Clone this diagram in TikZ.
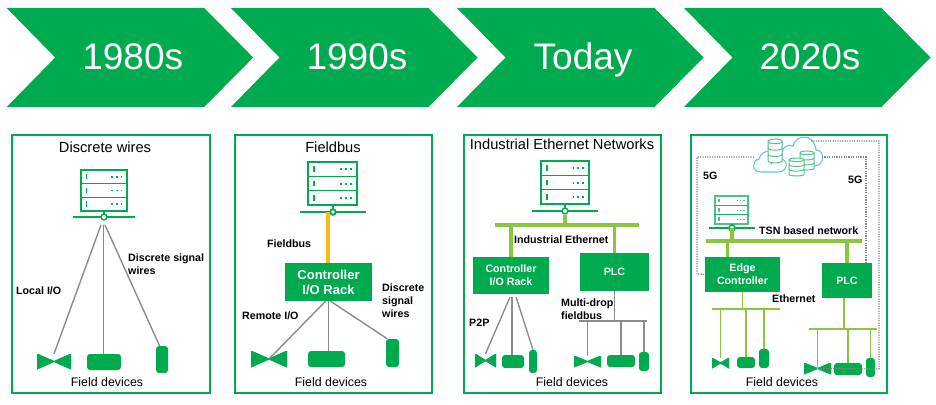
\documentclass[tikz,border=0pt]{standalone}
\usepackage{fontspec}
\setmainfont{Liberation Sans}
\usetikzlibrary{calc,positioning}
\definecolor{brandgreen}{HTML}{00AB4F}
\definecolor{limegreen}{HTML}{8CC63F}
\definecolor{wiregray}{HTML}{8C8C8C}
\definecolor{busyellow}{HTML}{FFB914}
\definecolor{cloudblue}{HTML}{5CC8F0}
\definecolor{dbgreen}{HTML}{55C487}

\begin{document}
\begin{tikzpicture}[x=1pt,y=-1pt,line join=miter]
        \tikzset{
                panel/.style   = {draw=brandgreen, line width=2pt},
                period/.style  = {text=white, inner sep=0pt, anchor=base, font=\fontsize{37}{40}\selectfont},
                title/.style   = {inner sep=0pt, font=\fontsize{14.67}{17}\selectfont},
                tag/.style     = {inner sep=0pt, align=left, anchor=west,
                                font=\fontsize{10.67}{13}\selectfont\bfseries},
                box/.style     = {fill=brandgreen, text=white, inner sep=0pt, align=center,
                                font=\fontsize{10.67}{13}\selectfont\bfseries},
                device/.style  = {fill=brandgreen, inner sep=0pt},
                pad/.style     = {device, rounded corners=3pt},
                tall/.style    = {device, rounded corners=3pt},
                valve/.style   = {inner sep=0pt, path picture={
                                \path[fill=brandgreen, draw=brandgreen, line width=1.2pt]
                                (path picture bounding box.north west)
                                -- (path picture bounding box.south east)
                                -- (path picture bounding box.north east)
                                -- (path picture bounding box.south west) -- cycle;}},
                hub/.style     = {circle, draw=brandgreen, fill=white, line width=1.4pt,
                                inner sep=0pt, minimum size=6pt},
                rackline/.style = {draw=brandgreen, line width=1.3pt},
                wire/.style    = {draw=wiregray, line width=1.4pt},
                thinbus/.style = {draw=limegreen, line width=1.5pt},
                bus/.style     = {draw=limegreen, line width=3.2pt},
                fivegee/.style = {draw=gray!95, line width=1.2pt, dash pattern=on 1.2pt off 1.2pt},
                cloudline/.style = {draw=cloudblue, line width=1.1pt},
                pics/rack/.style = {code={
                        \foreach \row in {0,1,2} {
                                \draw[rackline] (0,\row/3) rectangle (1,\row/3+1/3);
                                \draw[brandgreen, line width=1.5pt] (0.12,\row/3+0.1) -- (0.12,\row/3+0.23);
                                \foreach \dotx in {0.66,0.76,0.86}
                                \fill[brandgreen] (\dotx,\row/3+0.15) rectangle ++(0.035,0.04);
                        }
                }},
                pics/dbstack/.style = {code={
                        \draw[dbgreen, fill=white, line width=1pt] (0,0.1)
                                .. controls (0,-0.03) and (1,-0.03) .. (1,0.1)
                                -- (1,0.9) .. controls (1,1.03) and (0,1.03) .. (0,0.9) -- cycle;
                        \foreach \tier in {0.1,0.37,0.63}
                        \draw[dbgreen, line width=1pt] (0,\tier)
                                .. controls (0,\tier+0.13) and (1,\tier+0.13) .. (1,\tier);
                }}
        }

        \useasboundingbox (0,0) rectangle (936,404);

        % timeline arrows
        \foreach \n/\x/\label in {a/6.7/1980s, b/231/1990s, c/457/Today, d/684/2020s} {
                \fill[brandgreen] (\x,8) -- ++(197.5,0) -- ++(49,49.5) -- ++(-49,49.5)
                        -- ++(-197.5,0) -- ++(48.5,-49.5) -- cycle;
                \node[period] (era\n) at (\x+126,69) {\label};
        }

        % frames of the four panels
        \foreach \xa/\xb in {12/210, 235/432, 464/661, 691/887}
        \draw[panel] (\xa,135) rectangle (\xb,393);

        % panel titles
        \node[title] (title1) at (105,147) {Discrete wires};
        \node[title] (title2) at (333,147) {Fieldbus};
        \node[title] (title3) at (562,144) {Industrial Ethernet Networks};

        % server racks with their base line and hub
        \foreach \n/\x/\y/\w/\h/\hx/\hy/\half/\pale in {1/81/170/46/41/104/217/31/1, 2/308/162/49/43/333/212/33/1,
                3/541/161/48/43/565/211/33/1, 4/715/196/33/28/732/228/23/0.7} {
                \pic[xscale=\w,yscale=\h,opacity=\pale] at (\x,\y) {rack};
                \coordinate (rack\n) at (\hx,\y+\h);
                \draw[rackline] (\hx-\half,\hy) -- (\hx+\half,\hy);
                \draw[rackline] (rack\n) -- (\hx,\hy);
                \node[hub] (hub\n) at (\hx,\hy) {};
        }

        % controllers
        \node[box, minimum width=87pt, minimum height=38pt, font=\fontsize{13}{15}\selectfont\bfseries]
                (rack2io) at (328.5,282) {Controller\\I/O Rack};
        \node[box, minimum width=76pt, minimum height=37pt] (rack3io) at (511,275.5) {Controller\\I/O Rack};
        \node[box, minimum width=69pt, minimum height=38pt] (plc3) at (614.5,272) {PLC};
        \node[box, minimum width=75pt, minimum height=35pt] (edge4) at (742.5,274.5) {Edge\\Controller};
        \node[box, minimum width=50pt, minimum height=35pt] (plc4) at (847,280.5) {PLC};

        % field devices
        \foreach \kind/\id/\x/\y/\w/\h in {valve/v1/54/361.5/34/15, pad/p1/104/362/34/16, tall/t1/162/359.5/12/27,
                valve/v2/269/359/36/16, pad/p2/326.5/359/37/16, tall/t2/392.5/353/13/28,
                valve/v3/485.5/360.5/21/13, pad/p3/513/361.5/22/13, tall/t3/533/361.5/8/23,
                valve/w3/587.5/361.5/27/11, pad/q3/621/361/28/12, tall/u3/644/361.5/10/19,
                valve/v4/720.5/363/17/10, pad/p4/746/362.5/18/11, tall/t4/764/358.5/10/19,
                valve/w4/817.5/368.5/27/11, pad/q4/848/369/28/12, tall/u4/870.5/367.5/9/19}
        \node[\kind, minimum width=\w pt, minimum height=\h pt] (\id) at (\x,\y) {};

        % discrete wires
        \coordinate (fan1a) at (101,225);
        \coordinate (fan1b) at (103.3,225);
        \coordinate (fan1c) at (105,225);
        \draw[wire] (fan1a) -- (v1.north);
        \draw[wire] (fan1b) -- (fan1b |- p1.north);
        \draw[wire] (fan1c) -- (t1.100);

        % fieldbus
        \coordinate (barfoot) at (328,263);
        \draw[busyellow, line width=4.6pt] (barfoot |- hub2) -- (barfoot);
        \node[hub, minimum size=5pt] (hub2top) at (hub2) {};
        \draw[wire] (rack2io.south) ++(-3,0) -- (v2.center);
        \draw[wire] (rack2io.south) -- (rack2io.south |- p2.north);
        \draw[wire] (rack2io.south) ++(2,0) -- (t2.110);

        % industrial ethernet
        \coordinate (bus3w) at (495,225);
        \coordinate (bus3e) at (639,225);
        \draw[bus] (bus3w) -- (bus3e);
        \draw[bus] (hub3.south) -- (hub3 |- bus3w);
        \draw[bus] (rack3io.north |- bus3w) -- (rack3io.north);
        \draw[bus] (plc3.north |- bus3w) -- (plc3.north);
        \coordinate (fan3a) at (510,297);
        \coordinate (fan3b) at (512,297);
        \coordinate (fan3c) at (516,297);
        \draw[wire] (fan3a) -- (v3.north);
        \draw[wire] (fan3b) -- (fan3b |- p3.north);
        \draw[wire] (fan3c) -- (t3.north);
        \coordinate (drop3w) at (579,321);
        \coordinate (drop3e) at (647,321);
        \draw[wire] (plc3.south) -- (plc3.south |- drop3w);
        \draw[wire] (drop3w) -- (drop3e);
        \foreach \id in {w3,q3,u3}
        \draw[wire] (\id.north |- drop3w) -- (\id.north);

        % cloud with its databases
        \draw[cloudline] (782,158) .. controls (780,148) and (788,143) .. (793,146)
                .. controls (796,134) and (814,133) .. (816,150)
                .. controls (825,150) and (825,165) .. (815,166) -- (800,166);
        \draw[cloudline, fill=white] (761,172) -- (778,172) .. controls (789,172) and (789,158) .. (778,158)
                .. controls (776,150) and (762,148) .. (759,159)
                .. controls (752,160) and (751,172) .. (761,172) -- cycle;
        \draw[cloudline] (771,165) .. controls (771,161) and (774,158) .. (778,158);
        \pic[xscale=14,yscale=24] at (768,139) {dbstack};
        \pic[xscale=14,yscale=19] at (800,151) {dbstack};
        \pic[xscale=15,yscale=18] at (789,158) {dbstack};

        % TSN network
        \coordinate (bus4w) at (706,241);
        \coordinate (bus4e) at (862,241);
        \coordinate (edge4up) at (727.5,257);
        \draw[bus] (bus4w) -- (bus4e);
        \draw[bus] (hub4.center) -- (hub4 |- bus4w);
        \draw[bus] (edge4up |- bus4w) -- (edge4up);
        \draw[bus] (plc4.north |- bus4w) -- (plc4.north);
        \coordinate (drop4w) at (712,309);
        \coordinate (drop4e) at (780,309);
        \draw[thinbus] (edge4.south) -- (edge4.south |- drop4w);
        \draw[thinbus] (drop4w) -- (drop4e);
        \foreach \id in {v4,p4,t4}
        \draw[thinbus] (\id.north |- drop4w) -- (\id.north);
        \coordinate (plc4down) at (844,298);
        \coordinate (drop4x) at (809,329);
        \coordinate (drop4y) at (877,329);
        \draw[thinbus] (plc4down) -- (plc4down |- drop4x);
        \draw[thinbus] (drop4x) -- (drop4y);
        \draw[thinbus] (w4.north |- drop4x) -- (w4.center);
        \foreach \id in {q4,u4}
        \draw[thinbus] (\id.north |- drop4x) -- (\id.north);

        % 5G links
        \coordinate (cloudw) at (754,157);
        \coordinate (cloude) at (822,157);
        \coordinate (cloudn) at (811,141);
        \draw[fivegee] (cloudw) -- (697,157) -- (697,274) -- (edge4.west);
        \draw[fivegee] (cloude) -| ($(plc4.north)+(19,0)$);
        \draw[fivegee] (cloudn) -- (879,141) -- (879,369) -- (w4.center);

        % labels
        \node[tag] (lab1) at (128,264.5) {Discrete signal\\wires};
        \node[tag] (lab2) at (16,291) {Local I/O};
        \node[tag] (lab3) at (267,244) {Fieldbus};
        \node[tag] (lab4) at (382,301) {Discrete\\signal\\wires};
        \node[tag] (lab5) at (242,316) {Remote I/O};
        \node[tag] (lab6) at (514,240) {Industrial Ethernet};
        \node[tag] (lab7) at (469,323) {P2P};
        \node[tag] (lab8) at (561,309.5) {Multi-drop\\fieldbus};
        \node[tag] (lab9) at (703,176) {5G};
        \node[tag] (lab10) at (848,180) {5G};
        \node[tag] (lab11) at (759,231) {TSN based network};
        \node[tag] (lab12) at (772,299) {Ethernet};

        \foreach \n/\x in {1/107, 2/331, 3/572, 4/782}
        \node[inner sep=0pt, font=\fontsize{12.4}{14}\selectfont] (field\n) at (\x,382.5) {Field devices};
\end{tikzpicture}
\end{document}
